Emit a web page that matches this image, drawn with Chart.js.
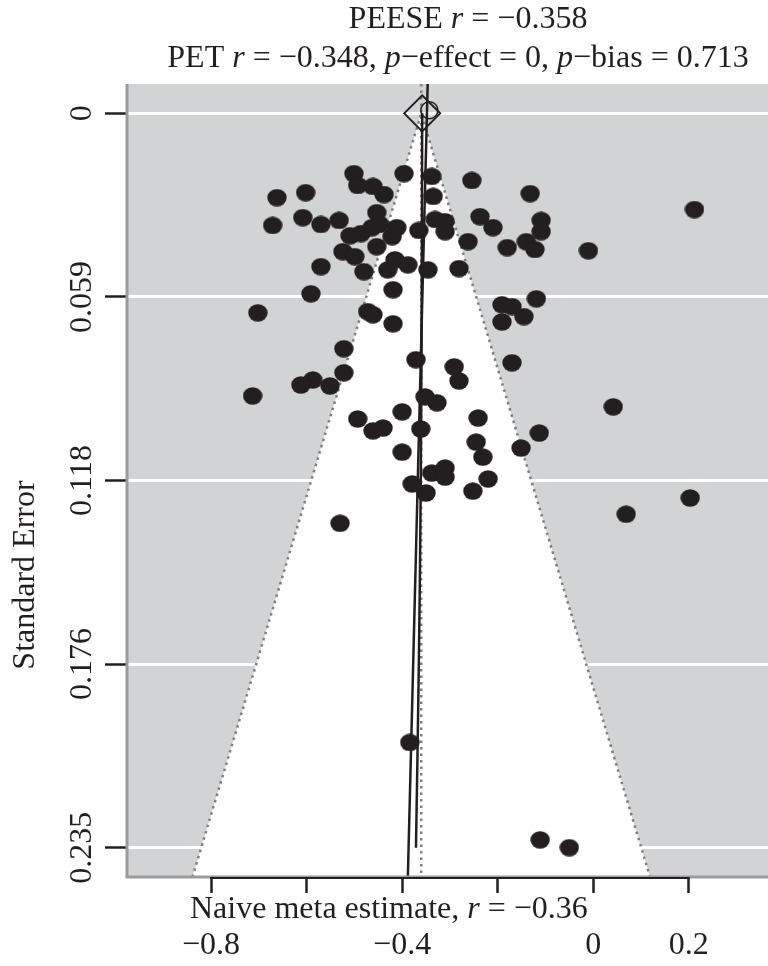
<!DOCTYPE html>
<html lang="en">
<head>
    <meta charset="UTF-8">
    <title>Funnel plot</title>
    <script src="https://cdn.jsdelivr.net/npm/chart.js@4.4.1/dist/chart.umd.min.js"></script>
    <style>
        html, body { margin: 0; padding: 0; background: #fff; }
        canvas { display: block; }
    </style>
</head>
<body>
    <canvas id="myChart" width="768" height="966"></canvas>
    <script>
        // study effects (r) and their standard errors
        const effectR = [
            -0.501, -0.493, -0.461, -0.438, -0.396, -0.662, -0.602, -0.671, -0.608, -0.570,
            -0.532, -0.453, -0.509, -0.486, -0.463, -0.447, -0.411, -0.421, -0.365, -0.524,
            -0.499, -0.453, -0.570, -0.480, -0.415, -0.430, -0.388, -0.346, -0.591, -0.702,
            -0.419, -0.472, -0.461, -0.419, -0.338, -0.335, -0.331, -0.310, -0.310, -0.254,
            -0.132, -0.237, -0.210, -0.262, -0.180, -0.140, -0.122, -0.109, -0.109, -0.010,
            -0.281, -0.191, -0.170, -0.119, -0.145, -0.191, 0.212, -0.522, -0.371, -0.522,
            -0.587, -0.612, -0.551, -0.713, -0.352, -0.327, -0.400, -0.493, -0.461, -0.440,
            -0.361, -0.400, -0.379, -0.350, -0.338, -0.310, -0.310, -0.530, -0.291, -0.281,
            -0.170, -0.241, -0.245, -0.231, -0.113, -0.151, 0.042, -0.220, -0.252, 0.069,
            0.203, -0.384, -0.111, -0.050
        ];
        const stdErr = [
            0.0193, 0.0231, 0.0234, 0.0260, 0.0193, 0.0270, 0.0254, 0.0359, 0.0334, 0.0356,
            0.0343, 0.0318, 0.0392, 0.0385, 0.0366, 0.0356, 0.0366, 0.0395, 0.0375, 0.0443,
            0.0459, 0.0427, 0.0491, 0.0507, 0.0469, 0.0501, 0.0485, 0.0501, 0.0578, 0.0639,
            0.0565, 0.0635, 0.0645, 0.0674, 0.0202, 0.0266, 0.0340, 0.0347, 0.0379, 0.0215,
            0.0257, 0.0331, 0.0366, 0.0411, 0.0430, 0.0411, 0.0436, 0.0343, 0.0379, 0.0440,
            0.0497, 0.0613, 0.0619, 0.0594, 0.0651, 0.0668, 0.0308, 0.0754, 0.0789, 0.0831,
            0.0854, 0.0870, 0.0873, 0.0905, 0.0908, 0.0927, 0.0956, 0.0979, 0.1017, 0.1008,
            0.1011, 0.1085, 0.1187, 0.1216, 0.1152, 0.1136, 0.1165, 0.1313, 0.0812, 0.0857,
            0.0799, 0.0976, 0.1053, 0.1101, 0.1024, 0.1072, 0.0940, 0.1171, 0.1210, 0.1284,
            0.1232, 0.2015, 0.2327, 0.2352
        ];

        // axes
        const xMin = -0.976, xMax = 0.366;
        const yMin = -0.0094, yMax = 0.2446;
        const xTicks = [-0.8, -0.6, -0.4, -0.2, 0, 0.2];
        const xTickLabels = ['\u22120.8', '', '\u22120.4', '', '0', '0.2'];
        const yTicks = [0, 0.0588, 0.1176, 0.1764, 0.2352];
        const yTickLabels = ['0', '0.059', '0.118', '0.176', '0.235'];

        // naive estimate and funnel (edges at the bottom of the plot)
        const naiveR = -0.36;
        const funnelR = [-0.839, -0.36, 0.119];
        const funnelSE = [0.2446, 0, 0.2446];

        // PET line (straight) and PEESE curve
        const petR = [-0.3465, -0.388];
        const petSE = [-0.0094, 0.2446];
        const peeseR = [-0.358, -0.359, -0.361, -0.365, -0.371];
        const peeseSE = [0, 0.0588, 0.1176, 0.1764, 0.2352];

        const peeseEst = { r: -0.358, se: 0 };
        const petEst = { r: -0.343, se: -0.001 };

        const serif = '"Liberation Serif", "Times New Roman", serif';
        const fontPx = 32;
        const ink = '#231f20';
        const dotted = '#7f7f7f';

        function pairs(xs, ys) {
            return xs.map((x, i) => ({ x: x, y: ys[i] }));
        }

        // slightly wide dots, like the original
        const dot = document.createElement('canvas');
        dot.width = 20; dot.height = 18;
        const dctx = dot.getContext('2d');
        dctx.fillStyle = ink;
        dctx.beginPath();
        dctx.ellipse(10, 9, 9.7, 8.7, 0, 0, Math.PI * 2);
        dctx.fill();

        function font(italic) {
            return (italic ? 'italic ' : '') + fontPx + 'px ' + serif;
        }

        function drawRich(ctx, parts, x, y, align) {
            let total = 0;
            parts.forEach(p => {
                ctx.font = font(p[1]);
                total += ctx.measureText(p[0]).width;
            });
            let cx = align === 'center' ? x - total / 2 : x;
            ctx.textAlign = 'left';
            ctx.textBaseline = 'alphabetic';
            parts.forEach(p => {
                ctx.font = font(p[1]);
                ctx.fillText(p[0], cx, y);
                cx += ctx.measureText(p[0]).width;
            });
        }

        const decorations = {
            id: 'decorations',
            beforeDraw(chart) {
                const { ctx, chartArea: a } = chart;
                ctx.save();
                ctx.fillStyle = '#d1d3d4';
                ctx.fillRect(a.left, a.top, a.right - a.left, a.bottom - a.top);
                ctx.restore();
            },
            afterDraw(chart) {
                const { ctx, chartArea: a } = chart;
                const xs = chart.scales.x, ys = chart.scales.y;
                ctx.save();

                // frame
                ctx.strokeStyle = '#9b9b9b';
                ctx.lineWidth = 3;
                ctx.beginPath();
                ctx.moveTo(a.left, a.top);
                ctx.lineTo(a.left, a.bottom);
                ctx.lineTo(a.right, a.bottom);
                ctx.stroke();

                // x axis line between first and last tick
                ctx.strokeStyle = ink;
                ctx.lineWidth = 2;
                ctx.beginPath();
                ctx.moveTo(xs.getPixelForValue(xTicks[0]) - 1, a.bottom + 1);
                ctx.lineTo(xs.getPixelForValue(xTicks[xTicks.length - 1]) + 1, a.bottom + 1);
                ctx.stroke();

                ctx.fillStyle = ink;
                ctx.font = font(false);

                // x tick labels
                ctx.textAlign = 'center';
                ctx.textBaseline = 'alphabetic';
                xTicks.forEach((v, i) => {
                    if (xTickLabels[i]) ctx.fillText(xTickLabels[i], xs.getPixelForValue(v), 954);
                });

                // y tick labels, turned
                yTicks.forEach((v, i) => {
                    ctx.save();
                    ctx.translate(91, ys.getPixelForValue(v));
                    ctx.rotate(-Math.PI / 2);
                    ctx.textAlign = 'center';
                    ctx.fillText(yTickLabels[i], 0, 0);
                    ctx.restore();
                });

                // y axis title
                ctx.save();
                ctx.translate(34, 575);
                ctx.rotate(-Math.PI / 2);
                ctx.textAlign = 'center';
                ctx.fillText('Standard Error', 0, 0);
                ctx.restore();

                // headings
                drawRich(ctx, [['PEESE ', false], ['r', true], [' = \u22120.358', false]], 468, 28, 'center');
                drawRich(ctx, [['PET ', false], ['r', true], [' = \u22120.348, ', false], ['p', true],
                    ['\u2212effect = 0, ', false], ['p', true], ['\u2212bias = 0.713', false]], 458, 67, 'center');
                drawRich(ctx, [['Naive meta estimate, ', false], ['r', true], [' = \u22120.36', false]], 190, 918, 'left');

                ctx.restore();
            }
        };

        const ctx = document.getElementById('myChart').getContext('2d');
        const myChart = new Chart(ctx, {
            type: 'scatter',
            data: {
                datasets: [
                    {
                        label: 'Funnel',
                        type: 'line',
                        data: pairs(funnelR, funnelSE),
                        borderColor: dotted,
                        borderWidth: 2.5,
                        borderDash: [2.5, 4],
                        backgroundColor: '#ffffff',
                        fill: { value: yMax },
                        pointRadius: 0,
                        tension: 0,
                        order: 6
                    },
                    {
                        label: 'Naive',
                        type: 'line',
                        data: [{ x: naiveR, y: yMin }, { x: naiveR, y: yMax }],
                        borderColor: dotted,
                        borderWidth: 2.5,
                        borderDash: [2.5, 4],
                        pointRadius: 0,
                        fill: false,
                        order: 5
                    },
                    {
                        label: 'Studies',
                        data: pairs(effectR, stdErr),
                        pointStyle: dot,
                        pointRadius: 9,
                        order: 4
                    },
                    {
                        label: 'PET',
                        type: 'line',
                        data: pairs(petR, petSE),
                        borderColor: ink,
                        borderWidth: 2.5,
                        pointRadius: 0,
                        fill: false,
                        order: 3
                    },
                    {
                        label: 'PEESE',
                        type: 'line',
                        data: pairs(peeseR, peeseSE),
                        borderColor: ink,
                        borderWidth: 2.5,
                        pointRadius: 0,
                        fill: false,
                        tension: 0.4,
                        order: 2
                    },
                    {
                        label: 'PEESE estimate',
                        data: [{ x: peeseEst.r, y: peeseEst.se }],
                        pointStyle: 'rectRot',
                        pointRadius: 18,
                        borderColor: ink,
                        borderWidth: 2,
                        backgroundColor: 'rgba(0,0,0,0)',
                        order: 1
                    },
                    {
                        label: 'PET estimate',
                        data: [{ x: petEst.r, y: petEst.se }],
                        pointStyle: 'circle',
                        pointRadius: 8.5,
                        borderColor: ink,
                        borderWidth: 1.5,
                        backgroundColor: 'rgba(0,0,0,0)',
                        order: 0
                    }
                ]
            },
            options: {
                responsive: false,
                animation: false,
                devicePixelRatio: 1,
                layout: { autoPadding: false, padding: { top: 84, right: 0, left: 0, bottom: 0 } },
                plugins: {
                    legend: { display: false },
                    tooltip: { enabled: false }
                },
                scales: {
                    x: {
                        type: 'linear',
                        min: xMin,
                        max: xMax,
                        afterBuildTicks: s => { s.ticks = xTicks.map(v => ({ value: v })); },
                        afterFit: s => { s.height = 89; },
                        ticks: { display: false },
                        border: { display: false },
                        grid: { drawOnChartArea: false, tickLength: 16, tickWidth: 2.5, tickColor: ink, color: ink }
                    },
                    y: {
                        type: 'linear',
                        reverse: true,
                        min: yMin,
                        max: yMax,
                        afterBuildTicks: s => { s.ticks = yTicks.map(v => ({ value: v })); },
                        afterFit: s => { s.width = 127; },
                        ticks: { display: false },
                        border: { display: false },
                        grid: { color: '#ffffff', lineWidth: 3, tickLength: 22, tickWidth: 2.5, tickColor: ink }
                    }
                }
            },
            plugins: [decorations]
        });
    </script>
</body>
</html>
